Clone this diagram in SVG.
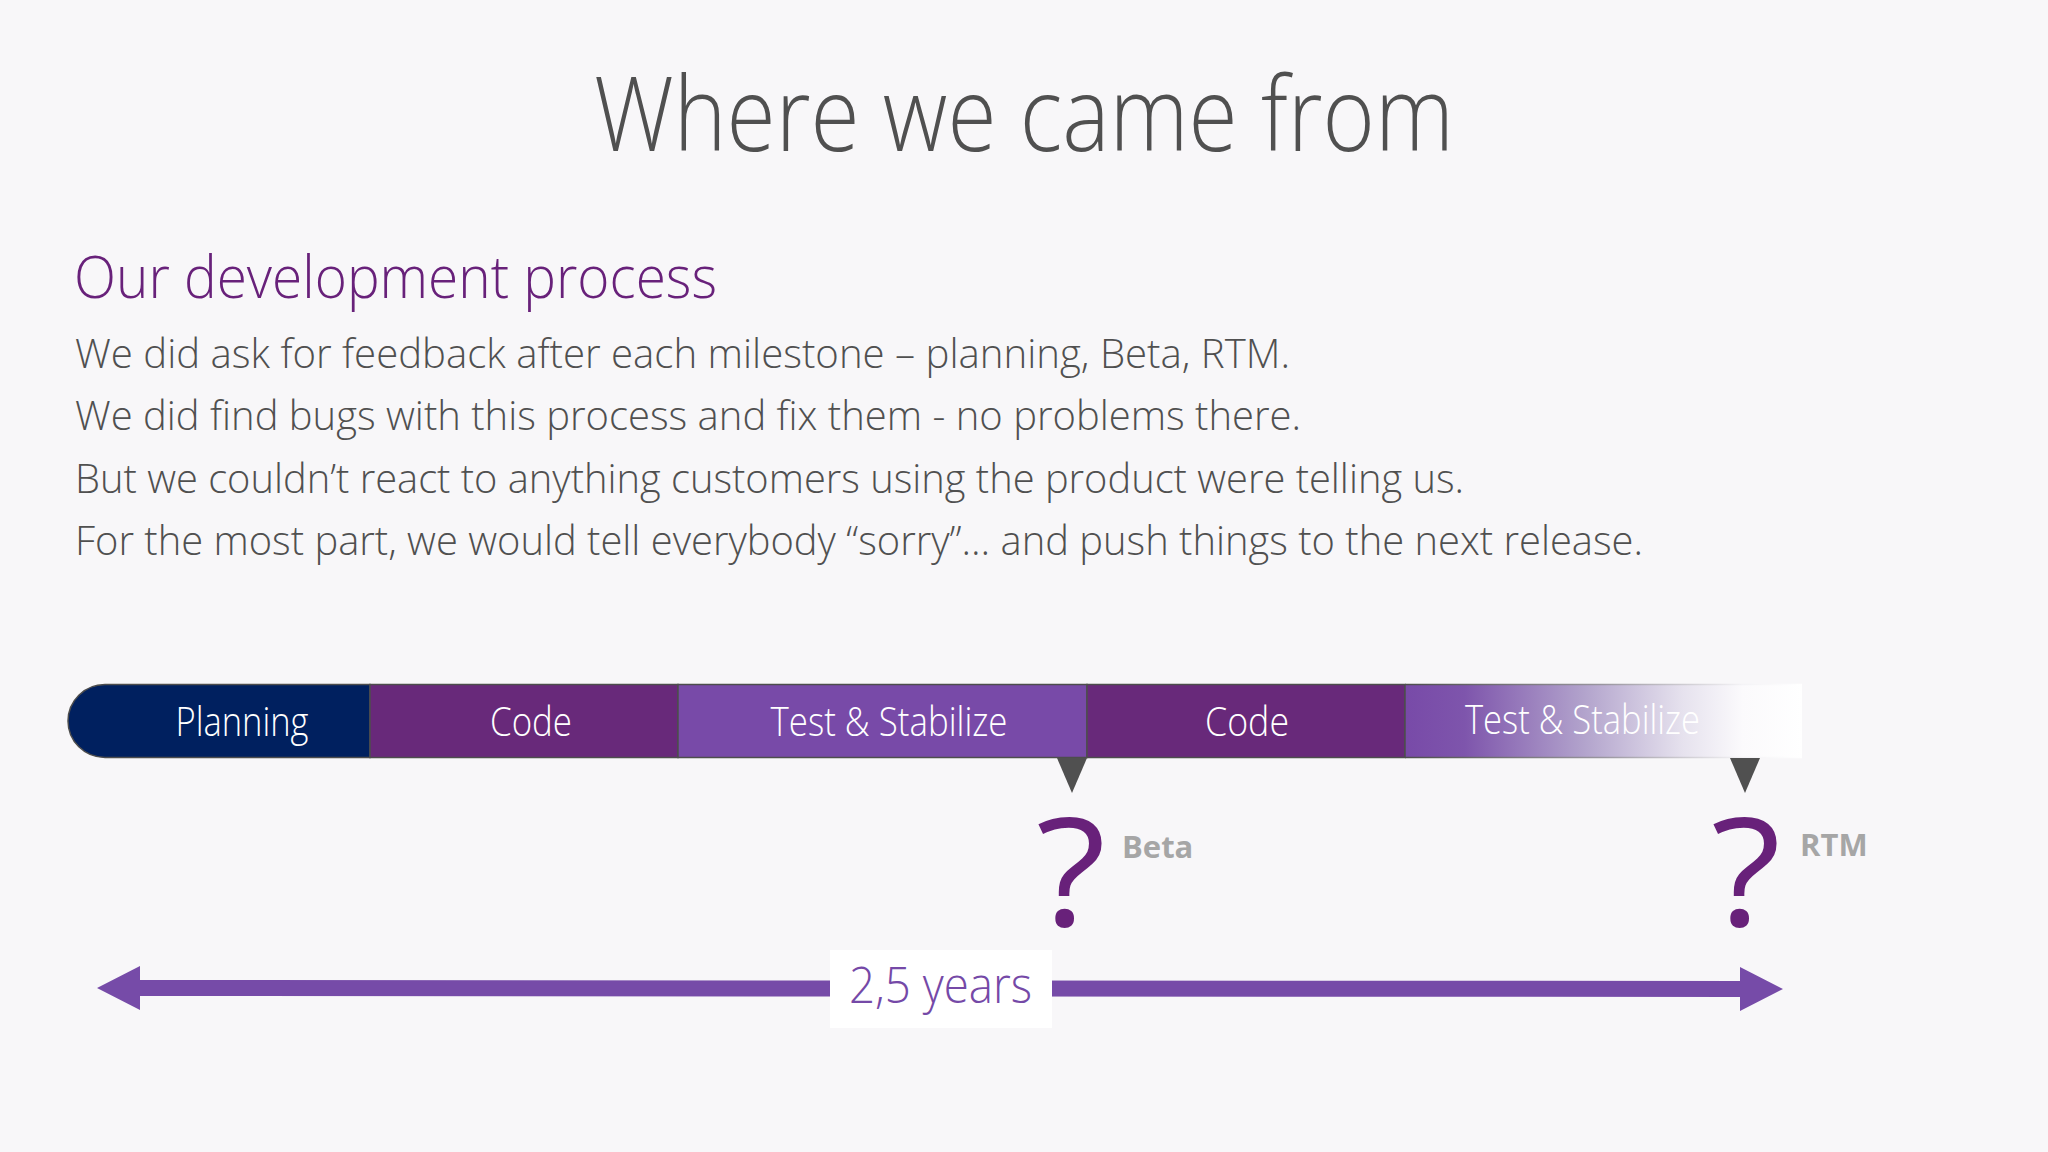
<svg xmlns="http://www.w3.org/2000/svg" width="2048" height="1152" viewBox="0 0 2048 1152">
<style>
.light{font-family:"Open Sans","Noto Sans","Liberation Sans",sans-serif;font-weight:300}
.title{font-size:104px;fill:#505050}
.sub{font-size:59px;fill:#68217A}
.body{font-size:41px;fill:#505050}
.seg{font-size:40px;fill:#FFFFFF}
.q{font-family:"Open Sans","Noto Sans","Liberation Sans",sans-serif;font-weight:500;font-size:150px;fill:#68217A}
.ms{font-family:"Open Sans","Noto Sans","Liberation Sans",sans-serif;font-weight:700;font-size:31px;fill:#A6A6A6}
.yrs{font-size:50px;fill:#7549A7}
.edge{stroke:#4D4D4D;stroke-width:1.5}
.pin{fill:#505050}
</style>
<defs>
<linearGradient id="fade" gradientUnits="userSpaceOnUse" x1="1405" y1="0" x2="1802" y2="0">
<stop offset="0" stop-color="#784AA8"/>
<stop offset="0.15" stop-color="#7E55AC"/>
<stop offset="0.45" stop-color="#B2A3CC"/>
<stop offset="0.7" stop-color="#E6E2EE"/>
<stop offset="0.85" stop-color="#FBFAFC"/>
<stop offset="1" stop-color="#FFFFFF"/>
</linearGradient>
<linearGradient id="fadeEdge" gradientUnits="userSpaceOnUse" x1="1405" y1="0" x2="1802" y2="0">
<stop offset="0" stop-color="#4D4D4D"/>
<stop offset="0.5" stop-color="#9A96A0"/>
<stop offset="0.85" stop-color="#F4F3F6"/>
<stop offset="1" stop-color="#FFFFFF"/>
</linearGradient>
</defs>
<rect x="0" y="0" width="2048" height="1152" fill="#F8F7F9"/>

<g id="title">
<text class="light title" x="594" y="151" textLength="860" lengthAdjust="spacingAndGlyphs">Where we came from</text>
</g>
<g id="subtitle">
<text class="light sub" x="74" y="298" textLength="643" lengthAdjust="spacingAndGlyphs">Our development process</text>
</g>
<g id="body">
<text class="light body" x="75" y="368" textLength="1215" lengthAdjust="spacingAndGlyphs">We did ask for feedback after each milestone – planning, Beta, RTM.</text>
<text class="light body" x="75" y="430" textLength="1226" lengthAdjust="spacingAndGlyphs">We did find bugs with this process and fix them - no problems there.</text>
<text class="light body" x="75" y="493" textLength="1389" lengthAdjust="spacingAndGlyphs">But we couldn’t react to anything customers using the product were telling us.</text>
<text class="light body" x="75" y="555" textLength="1568" lengthAdjust="spacingAndGlyphs">For the most part, we would tell everybody “sorry”… and push things to the next release.</text>
</g>

<g id="phase-planning">
<path class="edge" d="M370,684.5 L105,684.5 A37,36.5 0 0 0 105,757.5 L370,757.5 Z" fill="#00205F"/>
<text class="light seg" x="242" y="736" text-anchor="middle" textLength="133" lengthAdjust="spacingAndGlyphs">Planning</text>
</g>
<g id="phase-code-1">
<rect class="edge" x="370" y="684.5" width="308" height="73" fill="#68297A"/>
<text class="light seg" x="531" y="736" text-anchor="middle" textLength="82" lengthAdjust="spacingAndGlyphs">Code</text>
</g>
<g id="phase-test-1">
<rect class="edge" x="678" y="684.5" width="409" height="73" fill="#784AA8"/>
<text class="light seg" x="889" y="736" text-anchor="middle" textLength="237" lengthAdjust="spacingAndGlyphs">Test &amp; Stabilize</text>
</g>
<g id="phase-code-2">
<rect class="edge" x="1087" y="684.5" width="318" height="73" fill="#68297A"/>
<text class="light seg" x="1247" y="736" text-anchor="middle" textLength="84" lengthAdjust="spacingAndGlyphs">Code</text>
</g>
<g id="phase-test-2">
<rect x="1405" y="684.5" width="397" height="73" fill="url(#fade)"/>
<path d="M1405,684.5 H1802 M1405,757.5 H1802" stroke="url(#fadeEdge)" stroke-width="1.5" fill="none"/>
<line class="edge" x1="1405" y1="684.5" x2="1405" y2="757.5"/>
<text class="light seg" x="1465" y="734" textLength="235" lengthAdjust="spacingAndGlyphs">Test &amp; Stabilize</text>
</g>

<g id="milestone-beta">
<polygon class="pin" points="1057,758 1087,758 1072,793"/>
<text class="q" x="1036" y="926" textLength="70" lengthAdjust="spacingAndGlyphs">?</text>
<text class="ms" x="1122" y="858">Beta</text>
</g>
<g id="milestone-rtm">
<polygon class="pin" points="1730,758 1760,758 1745,793"/>
<text class="q" x="1711" y="926" textLength="70" lengthAdjust="spacingAndGlyphs">?</text>
<text class="ms" x="1800" y="856">RTM</text>
</g>

<g id="connectors">
<polygon points="97,988 140,966 140,980 1740,981 1740,967 1783,989 1740,1011 1740,997 140,996 140,1010" fill="#764BA8"/>
</g>
<g id="duration-label">
<rect x="830" y="950" width="222" height="78" fill="#FFFFFF"/>
<text class="light yrs" x="849" y="1003" textLength="183" lengthAdjust="spacingAndGlyphs">2,5 years</text>
</g>
</svg>
